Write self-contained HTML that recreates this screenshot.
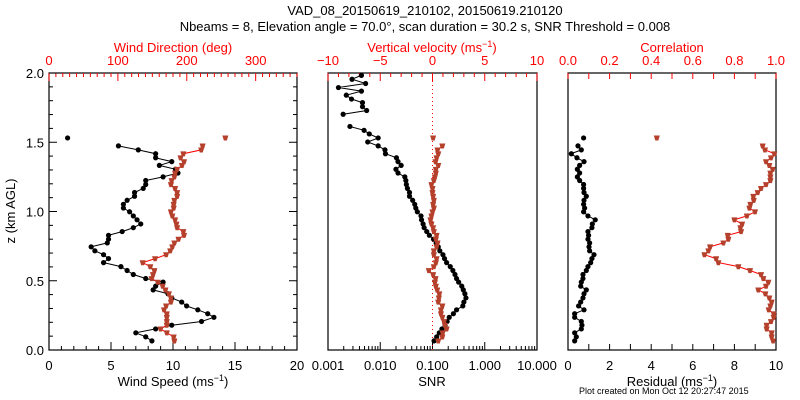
<!DOCTYPE html>
<html><head><meta charset="utf-8"><style>
html,body{margin:0;padding:0;background:#fff}
svg{display:block;font-family:"Liberation Sans",sans-serif}
</style></head><body>
<svg id="c" width="800" height="400" viewBox="0 0 800 400">
<text x="425" y="15" text-anchor="middle" font-size="13">VAD_08_20150619_210102, 20150619.210120</text>
<text x="425" y="31" text-anchor="middle" font-size="13">Nbeams = 8, Elevation angle = 70.0°, scan duration = 30.2 s, SNR Threshold = 0.008</text>
<text x="579" y="394" font-size="9">Plot created on Mon Oct 12 20:27:47 2015</text>
</svg>
<script>
const zLevels=[1.983,1.955,1.924,1.895,1.869,1.84,1.812,1.786,1.757,1.729,1.702,1.672,1.643,1.614,1.586,1.56,1.531,1.502,1.474,1.445,1.417,1.388,1.36,1.333,1.305,1.278,1.25,1.224,1.195,1.167,1.137,1.11,1.081,1.052,1.025,0.998,0.968,0.94,0.91,0.883,0.855,0.828,0.8,0.773,0.745,0.716,0.688,0.66,0.631,0.602,0.574,0.545,0.516,0.49,0.461,0.434,0.406,0.376,0.346,0.318,0.29,0.262,0.236,0.206,0.179,0.152,0.124,0.095,0.066];
const N16=[null,null,null,null,null,null,null,null,null,null,null,null,null,null,null,null];
const windSpeed=N16.concat([1.5,null,5.6,7.2,8.6,8.6,9.9,8.9,10.2,10.4,9.2,7.8,7.8,7.6,6.9,6.9,6.3,6.0,6.0,6.5,6.8,7.1,7.4,6.8,5.9,4.8,4.8,4.7,3.4,3.7,4.4,4.8,4.4,5.8,6.3,6.8,7.8,9.2,8.6,8.4,9.6,9.9,10.7,11.1,12.0,12.8,13.3,12.3,9.9,8.6,7.0,7.8,8.3]);
const windDir=N16.concat([256,null,223,221,195,191,196,193,186,183,182,178,177,183,186,186,182,181,181,177,179,183,185,186,195,196,188,182,179,176,170,154,136,147,153,151,149,158,165,169,174,177,177,170,167,171,171,171,171,162,171,181,182]);
const snrLog=[-2.36,-2.54,-2.28,-2.80,-2.36,-2.65,-2.55,-2.34,-2.34,-2.26,-2.71,null,null,-2.58,-2.31,-2.21,-2.04,-2.24,-2.04,-1.91,-1.90,-1.69,-1.66,-1.60,-1.70,-1.66,-1.53,-1.51,-1.50,-1.48,-1.44,-1.44,-1.38,-1.34,-1.32,-1.29,-1.22,-1.21,-1.18,-1.16,-1.11,-1.06,-0.98,-0.93,-0.89,-0.86,-0.80,-0.77,-0.73,-0.66,-0.61,-0.57,-0.54,-0.50,-0.44,-0.41,-0.38,-0.36,-0.40,-0.42,-0.54,-0.60,-0.68,-0.72,-0.76,-0.82,-0.87,-0.92,-0.97];
const vertVel=N16.concat([0.06,null,0.94,0.48,0.55,0.39,0.29,0.55,0.32,0.32,0.23,0.13,-0.10,0,0,0.06,0.13,0.06,0.13,0,-0.1,-0.19,-0.1,0.06,0.13,0.39,0.32,0.48,0.39,0.13,0.13,0.39,0.32,0.13,-0.35,0.06,0.29,0.23,0.32,0.45,0.65,0.61,0.55,0.94,0.81,0.81,0.94,1.10,1.19,1.35,0.97,0.94,0.55]);
const residual=N16.concat([0.75,null,0.48,0.64,0.16,0.43,0.77,0.56,0.45,0.56,0.45,0.56,0.75,0.75,0.77,0.88,0.77,0.75,0.8,0.75,0.96,1.31,1.17,1.15,0.96,0.99,0.96,1.04,1.01,1.04,1.25,1.15,1.09,0.96,0.88,0.72,0.72,0.64,0.61,0.88,0.77,0.72,0.61,0.51,0.77,0.32,0.32,0.64,0.67,0.64,0.32,0.4,0.32]);
const correlation=N16.concat([0.427,null,0.936,0.947,0.992,0.976,0.952,0.968,0.984,0.973,0.973,0.973,0.952,0.928,0.912,0.891,0.893,0.877,0.872,0.899,0.86,0.80,0.837,0.829,0.832,0.768,0.771,0.747,0.683,0.675,0.656,0.712,0.723,0.819,0.875,0.928,0.939,0.963,0.952,0.915,0.949,0.968,0.979,0.973,0.965,0.989,0.989,0.976,0.955,0.955,0.979,0.979,0.986]);
const snrTickLabels=["0.001","0.010","0.100","1.000","10.000"];

const svg=document.getElementById('c');
const NS='http://www.w3.org/2000/svg';
const RED='#ff0000', MRK='#b5402c';
function mk(tag,at,parent){const e=document.createElementNS(NS,tag);for(const k in at)e.setAttribute(k,at[k]);(parent||svg).appendChild(e);return e;}
const TOP=73, BOT=350;
const yz=z=>BOT-z/2*(BOT-TOP);
function lin(a,b,x0,x1){return v=>x0+(v-a)/(b-a)*(x1-x0);}

function box(x0,x1,name){const r=mk('rect',{x:x0,y:TOP,width:x1-x0,height:BOT-TOP,fill:'none',stroke:'#000','stroke-width':1.2});
}
function tick(x1,y1,x2,y2,col,name){const l=mk('line',{x1,y1,x2,y2,stroke:col,'stroke-width':1});}
function label(x,y,t,col,anchor,size,name){const e=mk('text',{x,y,'text-anchor':anchor||'middle','font-size':size||13,fill:col||'#000'});e.textContent=t;return e;}

function series(xs,fx,col,mcol,shape,name){
  let d='',pen=false;
  xs.forEach((v,i)=>{ if(v===null){pen=false;return;} const X=fx(v),Y=yz(zLevels[i]); d+=(pen?'L':'M')+X.toFixed(1)+' '+Y.toFixed(1); pen=true;});
  const p=mk('path',{d,fill:'none',stroke:col,'stroke-width':1});
  
  xs.forEach((v,i)=>{ if(v===null)return; const X=fx(v),Y=yz(zLevels[i]);
    let m;
    if(shape==='tri'){m=mk('path',{d:`M${X-3} ${Y-2.4}L${X+3} ${Y-2.4}L${X+1.5} ${Y+2.6}L${X-1.5} ${Y+2.6}Z`,fill:mcol});}
    else{m=mk('circle',{cx:X,cy:Y,r:2.6,fill:mcol});}
    });
}

// Panel 1
const P1=[49,297];
box(P1[0],P1[1],'wind-panel-frame');
const xs1=lin(0,20,P1[0],P1[1]), xd1=lin(0,360,P1[0],P1[1]);
for(let v=0;v<=20;v++){const X=xs1(v);const L=v%5===0?8:4;tick(X,BOT,X,BOT-L,'#000','speed-tick');}
[0,5,10,15,20].forEach(v=>label(xs1(v),370,String(v),'#000','middle',13,'speed-tick-label'));
for(let v=0;v<=360;v+=10){const X=xd1(v);const L=v%100===0?8:4;tick(X,TOP,X,TOP+L,RED,'direction-tick');}
[0,100,200,300].forEach(v=>label(xd1(v),65,String(v),RED,'middle',13,'direction-tick-label'));
label(173,52,'Wind Direction (deg)',RED,'middle',13,'direction-axis-title');
const st=label(173,386,'Wind Speed (ms',  '#000','middle',13,'speed-axis-title');
st.innerHTML='Wind Speed (ms<tspan dy="-5" font-size="9">−1</tspan><tspan dy="5">)</tspan>';
for(let z=0;z<=2.001;z+=0.1){const Y=yz(z);const L=Math.round(z*10)%5===0?8:4;tick(P1[0],Y,P1[0]+L,Y,'#000','z-tick');tick(P1[1],Y,P1[1]-L,Y,'#000','z-tick-right');}
[0,0.5,1,1.5,2].forEach(z=>label(44,yz(z)+5,z.toFixed(1),'#000','end',13,'z-tick-label'));
const yt=label(0,0,'z (km AGL)','#000','middle',13,'z-axis-title');yt.setAttribute('transform','translate(15,211) rotate(-90)');
series(windSpeed,xs1,'#000','#000','circ','wind-speed');
series(windDir,xd1,RED,MRK,'tri','wind-direction');

// Panel 2
const P2=[328,537];
box(P2[0],P2[1],'snr-panel-frame');
const xl2=lin(-3,1,P2[0],P2[1]), xv2=lin(-10,10,P2[0],P2[1]);
for(let dcd=-3;dcd<1;dcd++){for(let m=1;m<10;m++){const X=xl2(dcd+Math.log10(m));tick(X,BOT,X,BOT-(m===1?8:4),'#000','snr-tick');}}
tick(P2[1],BOT,P2[1],BOT-8,'#000','snr-tick');
snrTickLabels.forEach((t,i)=>label(xl2(i-3),370,t,'#000','middle',13,'snr-tick-label'));
label(432,386,'SNR','#000','middle',13,'snr-axis-title');
for(let v=-10;v<=10;v++){const X=xv2(v);tick(X,TOP,X,TOP+(v%5===0?8:4),RED,'velocity-tick');}
[-10,-5,0,5,10].forEach(v=>label(xv2(v),65,(v<0?'−':'')+Math.abs(v),RED,'middle',13,'velocity-tick-label'));
const vt=label(432,52,'','#000','middle',13,'velocity-axis-title');vt.setAttribute('fill',RED);
vt.innerHTML='Vertical velocity (ms<tspan dy="-5" font-size="9">−1</tspan><tspan dy="5">)</tspan>';
const zl=mk('line',{x1:xv2(0),y1:TOP,x2:xv2(0),y2:BOT,stroke:RED,'stroke-width':1,'stroke-dasharray':'1,3'});

series(snrLog,xl2,'#000','#000','circ','snr');
series(vertVel,xv2,RED,MRK,'tri','vertical-velocity');

// Panel 3
const P3=[568,776];
box(P3[0],P3[1],'residual-panel-frame');
const xr3=lin(0,10,P3[0],P3[1]), xc3=lin(0,1,P3[0],P3[1]);
for(let v=0;v<=10;v++){const X=xr3(v);tick(X,BOT,X,BOT-6,'#000','residual-tick');tick(X,TOP,X,TOP+6,RED,'correlation-tick');}
[0,2,4,6,8,10].forEach(v=>label(xr3(v),370,String(v),'#000','middle',13,'residual-tick-label'));
[0,0.2,0.4,0.6,0.8,1.0].forEach(v=>label(xc3(v),65,v.toFixed(1),RED,'middle',13,'correlation-tick-label'));
label(672,52,'Correlation',RED,'middle',13,'correlation-axis-title');
const rt=label(672,386,'','#000','middle',13,'residual-axis-title');
rt.innerHTML='Residual (ms<tspan dy="-5" font-size="9">−1</tspan><tspan dy="5">)</tspan>';
series(residual,xr3,'#000','#000','circ','residual');
series(correlation,xc3,RED,MRK,'tri','correlation');
</script>
</body></html>
